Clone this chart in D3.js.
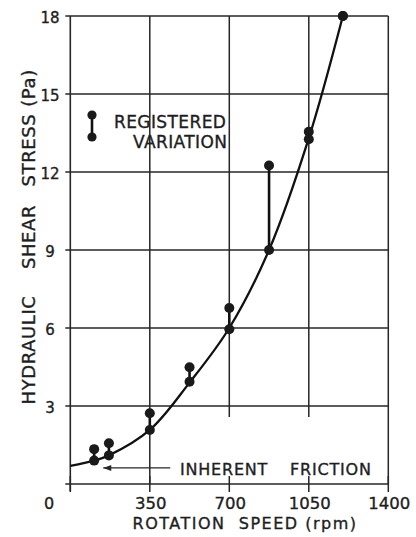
<!DOCTYPE html>
<html><head><meta charset="utf-8">
<script src="https://cdn.jsdelivr.net/npm/d3@7"></script>
<style>
body{margin:0;background:#fff}
svg{display:block}
text{font-family:"DejaVu Sans",sans-serif;fill:#1e1e1e;stroke:#1e1e1e;stroke-width:0.35px}
</style>
</head><body>
<svg id="c" width="416" height="537"></svg>
<script>
// ---- data ----
const speeds      = [105, 170, 350, 525, 700, 875, 1050, 1200];          // rpm
const stressLow   = [0.90, 1.10, 2.08, 3.93, 5.95, 9.00, 13.26, 18.0];  // Pa
const stressHigh  = [1.34, 1.57, 2.72, 4.49, 6.77, 12.25, 13.55, 18.0]; // Pa
const curveSpeed  = [0, 105, 170, 350, 525, 700, 875, 1050, 1200];
const curveStress = [0.70, 0.90, 1.10, 2.08, 3.90, 6.00, 9.00, 13.30, 18.0];
const xTicks      = [350, 700, 1050, 1400];
const xTickLabels = ["350", "700", "1050", "1400"];
const yTicks      = [3, 6, 9, 12, 15, 18];
const yTickLabels = ["3", "6", "9", "12", "15", "18"];
const yTitleWords = ["HYDRAULIC", "SHEAR", "STRESS", "(Pa)"];
const xTitle      = "ROTATION  SPEED (rpm)";
const legendLines = ["REGISTERED", "VARIATION"];
const noteWords   = ["INHERENT", "FRICTION"];

const ink = "#262626";
const svg = d3.select("#c");
const x = d3.scaleLinear().domain([0, 1400]).range([70.3, 388.3]);
const y = d3.scaleLinear().domain([0, 18]).range([484, 16]);

const g = svg.append("g");

// horizontal grid lines (with small stubs left of the axis)
g.selectAll("line.h").data(yTicks).join("line")
  .attr("x1", x(0) - 5).attr("x2", x(1400))
  .attr("y1", d => y(d)).attr("y2", d => y(d))
  .attr("stroke", ink).attr("stroke-width", 1.5);

// x axis line
g.append("line").attr("x1", x(0) - 5).attr("x2", x(1400))
  .attr("y1", y(0)).attr("y2", y(0)).attr("stroke", ink).attr("stroke-width", 1.6);
// left axis
g.append("line").attr("x1", x(0)).attr("x2", x(0))
  .attr("y1", y(18)).attr("y2", y(0) + 7).attr("stroke", ink).attr("stroke-width", 1.6);

// vertical grid lines
const vFull = [350, 1400];
const vPart = [700, 1050];
g.selectAll("line.vf").data(vFull).join("line")
  .attr("x1", d => x(d)).attr("x2", d => x(d))
  .attr("y1", y(18)).attr("y2", y(0))
  .attr("stroke", ink).attr("stroke-width", 1.5);
g.selectAll("line.vp").data(vPart).join("line")
  .attr("x1", d => x(d)).attr("x2", d => x(d))
  .attr("y1", y(18)).attr("y2", y(2.58))
  .attr("stroke", ink).attr("stroke-width", 1.5);
// tick marks crossing the x axis
g.selectAll("line.xt").data([0].concat(xTicks)).join("line")
  .attr("x1", d => x(d)).attr("x2", d => x(d))
  .attr("y1", y(0) - 8).attr("y2", y(0) + 8)
  .attr("stroke", ink).attr("stroke-width", 1.5);

// tick labels
g.selectAll("text.yt").data(yTicks).join("text")
  .attr("x", 50).attr("y", d => y(d) + 7)
  .attr("text-anchor", "middle").attr("font-size", 15)
  .text((d, i) => yTickLabels[i]);
g.append("text").attr("x", 49).attr("y", 509)
  .attr("text-anchor", "middle").attr("font-size", 16).text("0");
g.selectAll("text.xt").data(xTicks).join("text")
  .attr("x", d => x(d) + 1).attr("y", 509)
  .attr("text-anchor", "middle").attr("font-size", 16.5)
  .text((d, i) => xTickLabels[i]);

// axis titles
g.append("text").attr("x", 245).attr("y", 529)
  .attr("text-anchor", "middle").attr("font-size", 16)
  .attr("letter-spacing", 1.5).style("white-space", "pre")
  .text(xTitle);
const yWordCenters = [350, 237, 150, 88];
const yt = g.append("text").attr("transform", "translate(35,0) rotate(-90)")
  .attr("font-size", 18).attr("letter-spacing", 0.6).attr("text-anchor", "middle");
yTitleWords.forEach((w, i) => {
  yt.append("tspan").attr("x", -yWordCenters[i]).attr("y", 0).text(w);
});

// fitted curve
const curvePts = curveSpeed.map((s, i) => [x(s), y(curveStress[i])]);
g.append("path").attr("d", d3.line().curve(d3.curveCatmullRom.alpha(0.5))(curvePts))
  .attr("fill", "none").attr("stroke", "#111").attr("stroke-width", 2.3);

// registered variation bars + dots
const pts = speeds.map((s, i) => ({ s, lo: stressLow[i], hi: stressHigh[i] }));
g.selectAll("line.var").data(pts.filter(d => d.hi > d.lo)).join("line")
  .attr("x1", d => x(d.s)).attr("x2", d => x(d.s))
  .attr("y1", d => y(d.lo)).attr("y2", d => y(d.hi))
  .attr("stroke", "#111").attr("stroke-width", 2.6);
g.selectAll("circle.hi").data(pts).join("circle")
  .attr("cx", d => x(d.s)).attr("cy", d => y(d.hi)).attr("r", 5).attr("fill", "#1a1a1a");
g.selectAll("circle.lo").data(pts).join("circle")
  .attr("cx", d => x(d.s)).attr("cy", d => y(d.lo)).attr("r", 5).attr("fill", "#1a1a1a");

// legend
g.append("line").attr("x1", 92).attr("x2", 92).attr("y1", 115).attr("y2", 137)
  .attr("stroke", "#111").attr("stroke-width", 2.6);
g.append("circle").attr("cx", 92).attr("cy", 115).attr("r", 4.6).attr("fill", "#1a1a1a");
g.append("circle").attr("cx", 92).attr("cy", 137).attr("r", 4.6).attr("fill", "#1a1a1a");
g.append("text").attr("x", 114).attr("y", 128).attr("font-size", 17)
  .attr("letter-spacing", 0.4).text(legendLines[0]);
g.append("text").attr("x", 133).attr("y", 148).attr("font-size", 17)
  .attr("letter-spacing", 0.4).text(legendLines[1]);

// inherent friction annotation
const arrowY = y(0.62);
g.append("line").attr("x1", x(145)).attr("x2", x(440))
  .attr("y1", arrowY).attr("y2", arrowY).attr("stroke", ink).attr("stroke-width", 1.3);
g.append("path")
  .attr("d", `M${x(145)},${arrowY} l8,-3 l0,6 z`)
  .attr("fill", ink);
g.append("text").attr("x", 180).attr("y", 475).attr("font-size", 16)
  .attr("letter-spacing", 0.8).text(noteWords[0]);
g.append("text").attr("x", 290).attr("y", 475).attr("font-size", 16)
  .attr("letter-spacing", 0.8).text(noteWords[1]);
</script>
</body></html>
